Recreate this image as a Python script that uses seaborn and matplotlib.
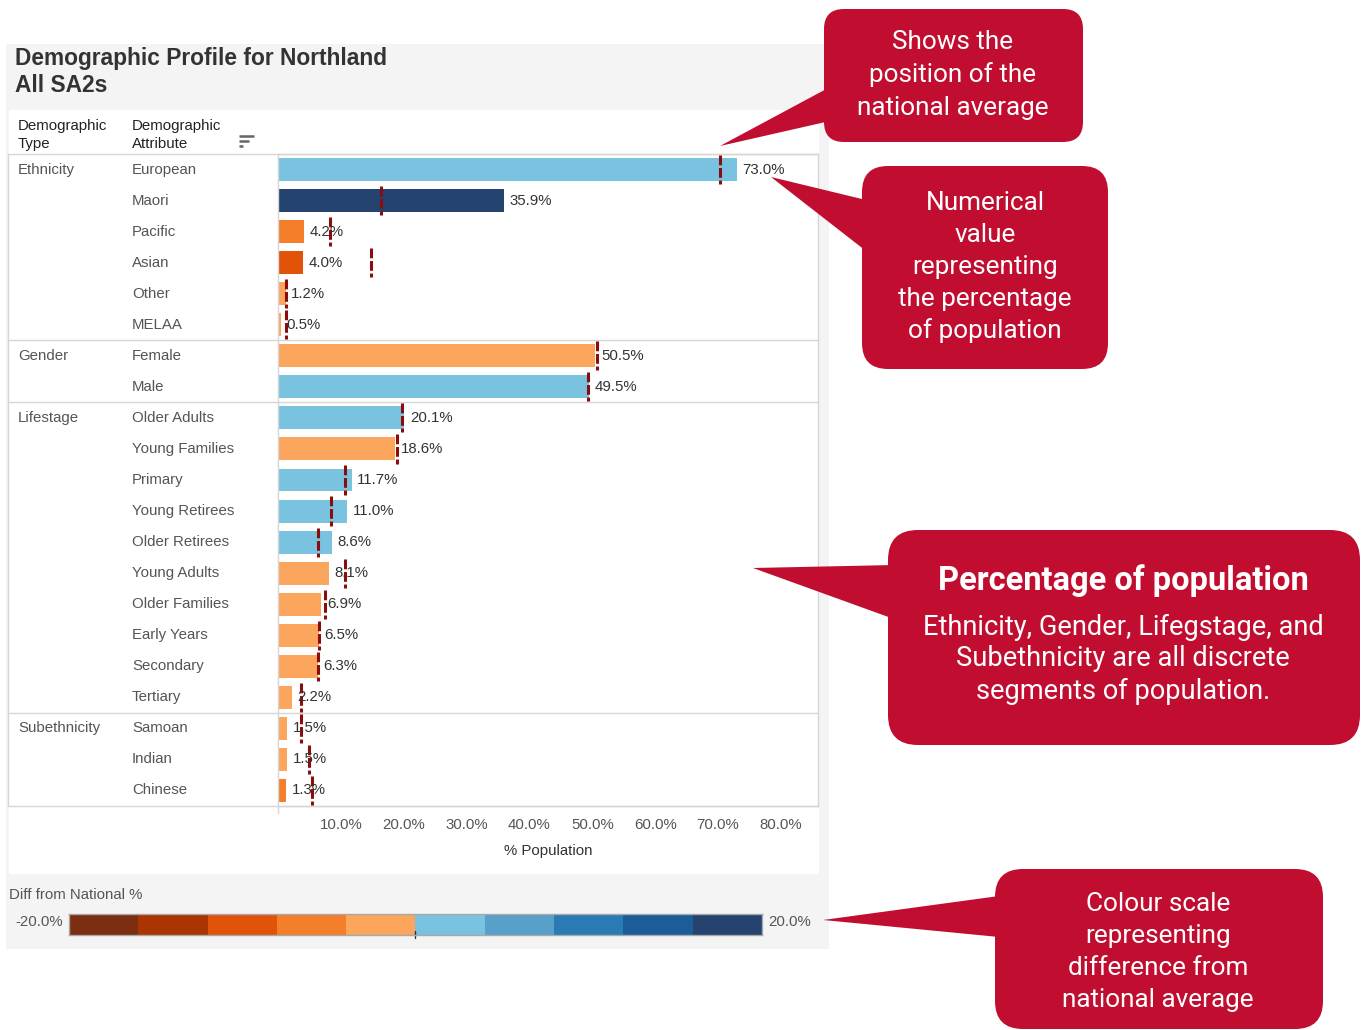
import numpy as np
import pandas as pd
import matplotlib
matplotlib.use("Agg")
import matplotlib.pyplot as plt
import matplotlib.transforms as mtransforms
from matplotlib.patches import FancyBboxPatch, Polygon, Rectangle
from matplotlib.colors import ListedColormap
import seaborn as sns

# ---------------- data ----------------
demo_types = ["Ethnicity"] * 6 + ["Gender"] * 2 + ["Lifestage"] * 10 + ["Subethnicity"] * 3
attributes = ["European", "Maori", "Pacific", "Asian", "Other", "MELAA",
              "Female", "Male",
              "Older Adults", "Young Families", "Primary", "Young Retirees", "Older Retirees",
              "Young Adults", "Older Families", "Early Years", "Secondary", "Tertiary",
              "Samoan", "Indian", "Chinese"]
pct_population = [73.0, 35.9, 4.2, 4.0, 1.2, 0.5,
                  50.5, 49.5,
                  20.1, 18.6, 11.7, 11.0, 8.6, 8.1, 6.9, 6.5, 6.3, 2.2,
                  1.5, 1.5, 1.3]
national_avg = [70.3, 16.4, 8.3, 14.8, 1.3, 1.2,
                50.7, 49.3,
                19.8, 18.9, 10.7, 8.4, 6.4, 10.7, 7.5, 6.6, 6.4, 3.7,
                3.7, 5.0, 5.4]
x_ticks = [10, 20, 30, 40, 50, 60, 70, 80]
scale_edges = [-20, -16, -12, -8, -4, 0, 4, 8, 12, 16, 20]
scale_colors = ["#7b2e12", "#aa3500", "#e2530a", "#f57e2b", "#fca55c",
                "#79c2e0", "#56a0ca", "#2a7ab6", "#1c5d99", "#24436e"]

title_lines = ["Demographic Profile for Northland", "All SA2s"]
legend_title = "Diff from National %"

# ---------------- setup ----------------
sns.set_theme(style="white")
plt.rcParams["font.family"] = ["Liberation Sans", "DejaVu Sans"]

W, H = 1364, 1030
fig = plt.figure(figsize=(W / 100, H / 100), dpi=100)
fig.patch.set_facecolor("white")


def frect(x0, y0, x1, y1):
    return [x0 / W, 1 - y1 / H, (x1 - x0) / W, (y1 - y0) / H]


TXT = "#333333"
LBL = "#555555"
GRID = "#d6d6d6"
FS = 10.8

# background (pixel coordinates)
bg = fig.add_axes([0, 0, 1, 1])
bg.set_xlim(0, W)
bg.set_ylim(H, 0)
bg.axis("off")
bg.add_patch(Rectangle((6, 44), 823, 905, fc="#f4f4f4", ec="none"))
bg.add_patch(Rectangle((9, 110), 810, 764, fc="white", ec="none"))

bg.text(15, 58, title_lines[0], fontsize=16.4, fontweight="bold", color=TXT, va="center")
bg.text(15, 85, title_lines[1], fontsize=16.4, fontweight="bold", color=TXT, va="center")

bg.text(18, 126, "Demographic", fontsize=FS, color="#222222", va="center")
bg.text(18, 144, "Type", fontsize=FS, color="#222222", va="center")
bg.text(132, 126, "Demographic", fontsize=FS, color="#222222", va="center")
bg.text(132, 144, "Attribute", fontsize=FS, color="#222222", va="center")
for yy, x1 in [(136, 254), (141, 249), (146, 243)]:
    bg.plot([239, x1], [yy, yy], color="#666666", lw=1.8, solid_capstyle="butt")

# ---------------- chart ----------------
df = pd.DataFrame({"Type": demo_types, "Attribute": attributes,
                   "Pct": pct_population, "National": national_avg})
df["Diff"] = df["Pct"] - df["National"]
bin_idx = np.clip(np.digitize(df["Diff"], scale_edges) - 1, 0, len(scale_colors) - 1)
df["Color"] = [scale_colors[i] for i in bin_idx]

ax = fig.add_axes(frect(278, 154, 818, 806))
ax.set_facecolor("none")
sns.barplot(data=df, x="Pct", y="Attribute", hue="Attribute", order=attributes,
            palette=dict(zip(df["Attribute"], df["Color"])), width=0.74,
            saturation=1, errorbar=None, legend=False, edgecolor="none", ax=ax)
ax.set_xlim(0, 85.9)
ax.set_ylim(len(attributes) - 0.5, -0.5)
ypos = np.arange(len(attributes))

ax.vlines(df["National"], ypos - 0.47, ypos + 0.47, colors="#8b0c0c",
          linewidth=2.2, linestyles=(0, (3.2, 0.9)), zorder=5)

for i, v in enumerate(df["Pct"]):
    ax.annotate(f"{v:.1f}%", (v, i), xytext=(4, 0), textcoords="offset points",
                va="center", ha="left", fontsize=FS, color=TXT, zorder=6)

ax.set_xticks(x_ticks)
ax.set_xticklabels([f"{t:.1f}%" for t in x_ticks], fontsize=FS, color=LBL)
ax.tick_params(axis="x", length=0, pad=8.5)
ax.set_yticks([])
ax.set_ylabel("")
ax.set_xlabel("% Population", fontsize=FS, color=TXT, labelpad=9)
for s in ax.spines.values():
    s.set_color(GRID)
    s.set_linewidth(1)

trans = mtransforms.blended_transform_factory(bg.transData, ax.transData)
prev = None
for i, (t, a) in enumerate(zip(df["Type"], df["Attribute"])):
    if t != prev:
        ax.text(18, i, t, transform=trans, va="center", fontsize=FS, color=LBL, clip_on=False)
        prev = t
    ax.text(132, i, a, transform=trans, va="center", fontsize=FS, color=LBL, clip_on=False)

group_bounds = [-0.5] + [i - 0.5 for i in range(1, len(demo_types)) if demo_types[i] != demo_types[i - 1]] + [len(demo_types) - 0.5]
for b in group_bounds:
    ax.plot([8, 818], [b, b], transform=trans, color=GRID, lw=1, clip_on=False)
ax.plot([8, 8], [-0.5, len(attributes) - 0.5], transform=trans, color=GRID, lw=1, clip_on=False)
bg.plot([278, 278], [806, 813], color=GRID, lw=1)

# ---------------- legend ----------------
bg.text(9, 895, legend_title, fontsize=FS, color=LBL, va="center")
lax = fig.add_axes(frect(69, 914, 762, 935))
centers = [(a + b) / 2 for a, b in zip(scale_edges[:-1], scale_edges[1:])]
lax.pcolormesh(scale_edges, [0, 1], [centers], cmap=ListedColormap(scale_colors),
               vmin=scale_edges[0], vmax=scale_edges[-1])
lax.set_xlim(scale_edges[0], scale_edges[-1])
lax.set_ylim(0, 1)
lax.set_xticks([])
lax.set_yticks([])
for s in lax.spines.values():
    s.set_color("#a8a8a8")
    s.set_linewidth(1)
lax.plot([0, 0], [-0.12, 0.2], color="#333333", lw=1, clip_on=False)
bg.text(63, 922, f"{scale_edges[0]:.1f}%", ha="right", va="center", fontsize=FS, color=LBL)
bg.text(768, 922, f"{scale_edges[-1]:.1f}%", ha="left", va="center", fontsize=FS, color=LBL)

# ---------------- callouts ----------------
RED = "#c10d30"
ov = fig.add_axes([0, 0, 1, 1], zorder=10)
ov.set_xlim(0, W)
ov.set_ylim(H, 0)
ov.axis("off")
ov.patch.set_alpha(0)
CF = ["Roboto", "DejaVu Sans"]
CW = "normal"


def callout(box, tri, r):
    x0, y0, x1, y1 = box
    ov.add_patch(FancyBboxPatch((x0, y0), x1 - x0, y1 - y0,
                                boxstyle=f"round,pad=0,rounding_size={r}",
                                fc=RED, ec="none"))
    ov.add_patch(Polygon(tri, closed=True, fc=RED, ec="none"))


callout((824, 9, 1083, 142), [(720, 146), (830, 87), (830, 121)], 20)
for y, s in zip([42, 75, 108], ["Shows the", "position of the", "national average"]):
    ov.text(953, y, s, ha="center", va="center", fontsize=18.8, color="white",
            family=CF, fontweight=CW)

callout((862, 166, 1108, 369), [(771, 177), (866, 200), (866, 251)], 26)
for y, s in zip([203, 235, 267, 299, 331],
                ["Numerical", "value", "representing", "the percentage", "of population"]):
    ov.text(985, y, s, ha="center", va="center", fontsize=18.8, color="white",
            family=CF, fontweight=CW)

callout((888, 530, 1360, 745), [(753, 568), (894, 565), (894, 619)], 30)
ov.text(1123, 581, "Percentage of population", ha="center", va="center", fontsize=23.5,
        fontweight="bold", color="white", family=CF)
for y, s in zip([627, 659, 691], ["Ethnicity, Gender, Lifegstage, and",
                                  "Subethnicity are all discrete",
                                  "segments of population."]):
    ov.text(1123, y, s, ha="center", va="center", fontsize=19.6, color="white",
            family=CF, fontweight=CW)

callout((995, 869, 1323, 1029), [(823, 920), (999, 896), (999, 937)], 28)
for y, s in zip([904, 936, 968, 1000], ["Colour scale", "representing",
                                        "difference from", "national average"]):
    ov.text(1158, y, s, ha="center", va="center", fontsize=18.8, color="white",
            family=CF, fontweight=CW)

fig.savefig("out.png", dpi=100)
